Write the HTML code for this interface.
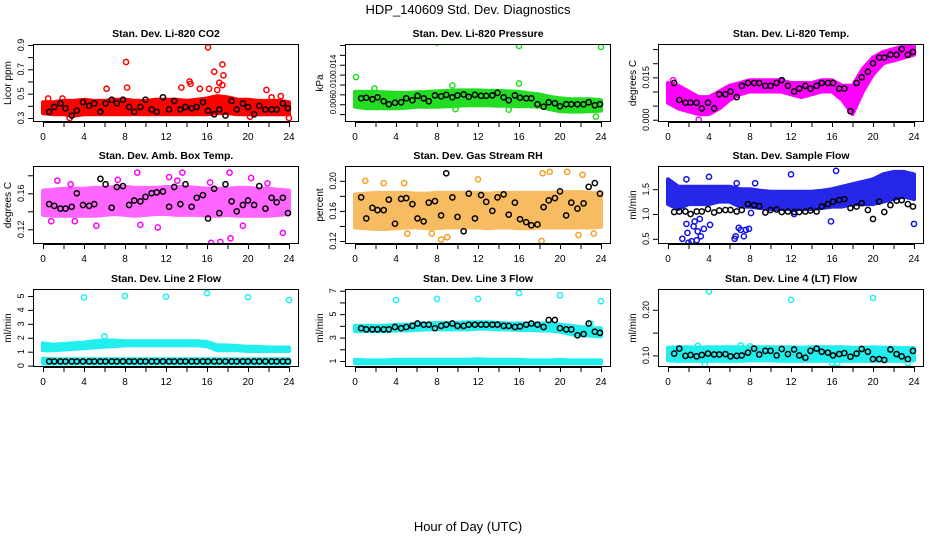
<!DOCTYPE html>
<html><head><meta charset="utf-8"><style>
html,body{margin:0;padding:0;background:#fff;}
svg text{font-family:"Liberation Sans",sans-serif;}
</style></head><body>
<svg id="chart" width="936" height="540" xmlns="http://www.w3.org/2000/svg">
<text x="468" y="14" font-size="13" text-anchor="middle">HDP_140609  Std. Dev. Diagnostics</text>
<text x="468" y="531" font-size="13" text-anchor="middle">Hour of Day (UTC)</text>
</svg>
<script>
// ---- shared data ----
const hourKnots=[0,1,2,3,4,5,6,7,8,9,10,11,12,13,14,15,16,17,18,19,20,21,22,23,24];
const blackHours=[0.6,1.1,1.7,2.2,2.8,3.3,3.9,4.5,5.0,5.6,6.1,6.7,7.2,7.8,8.4,8.9,9.5,10.0,10.6,11.1,11.7,12.3,12.8,13.4,13.9,14.5,15.0,15.6,16.1,16.7,17.2,17.8,18.4,18.9,19.5,20.0,20.6,21.1,21.7,22.3,22.8,23.4,23.9];
const xTicks=[0,2,4,6,8,10,12,14,16,18,20,22,24];
const xTickLabels=["0","","4","","8","","12","","16","","20","","24"];
const panelTitles=["Stan. Dev. Li-820 CO2","Stan. Dev. Li-820 Pressure","Stan. Dev. Li-820 Temp.","Stan. Dev. Amb. Box Temp.","Stan. Dev. Gas Stream RH","Stan. Dev. Sample Flow","Stan. Dev. Line 2 Flow","Stan. Dev. Line 3 Flow","Stan. Dev. Line 4 (LT) Flow"];
const yTitles=["Licor ppm","kPa","degrees C","degrees C","percent","ml/min","ml/min","ml/min","ml/min"];
const panelColors=["#ff0000","#22dd22","#ff00ff","#ff00ff","#f4a020","#1010e8","#22eeee","#22eeee","#22eeee"];
const yDomains=[[0.267,0.908],[0.0024,0.0182],[-0.0008,0.0268],[0.1037,0.1903],[0.116,0.2197],[0.395,1.968],[-0.1,5.5],[0.488,7.145],[0.0746,0.2456]];
const yTicks=[[0.3,0.4,0.5,0.6,0.7,0.8,0.9],[0.004,0.006,0.008,0.010,0.012,0.014,0.016,0.018],[0,0.005,0.010,0.015,0.020,0.025],[0.12,0.14,0.16,0.18],[0.12,0.14,0.16,0.18,0.20],[0.5,1.0,1.5],[0,1,2,3,4,5],[1,2,3,4,5,6,7],[0.10,0.15,0.20]];
const yTickLabels=[["0.3","","0.5","","0.7","","0.9"],["","0.006","","0.010","","0.014","",""],["0.000","","","0.015","",""],["0.12","","0.16",""],["0.12","","0.16","","0.20"],["0.5","1.0","1.5"],["0","1","2","3","4","5"],["1","","3","","5","","7"],["0.10","","0.20"]];
// band envelopes (hourly)
const bandLo=[
[0.34,0.33,0.33,0.32,0.33,0.33,0.33,0.33,0.33,0.33,0.33,0.33,0.33,0.33,0.33,0.33,0.33,0.34,0.34,0.33,0.33,0.33,0.33,0.33,0.33],
[0.0055,0.0052,0.0052,0.0052,0.0052,0.0053,0.0055,0.0055,0.0055,0.0056,0.0057,0.0058,0.0058,0.0058,0.0057,0.0057,0.0056,0.0056,0.0055,0.0050,0.0046,0.0045,0.0045,0.0046,0.0047],
[0.006,0.004,0.003,0.002,0.002,0.004,0.007,0.009,0.010,0.010,0.010,0.010,0.009,0.008,0.009,0.010,0.010,0.007,0.002,0.010,0.016,0.020,0.021,0.022,0.023],
[0.136,0.135,0.135,0.135,0.135,0.135,0.136,0.137,0.136,0.135,0.136,0.137,0.137,0.136,0.136,0.136,0.135,0.135,0.136,0.135,0.135,0.135,0.135,0.136,0.137],
[0.138,0.137,0.136,0.136,0.137,0.138,0.138,0.137,0.137,0.138,0.138,0.138,0.138,0.137,0.138,0.138,0.137,0.137,0.138,0.138,0.138,0.138,0.138,0.138,0.139],
[1.2,1.1,1.2,1.2,1.2,1.25,1.25,1.15,1.15,1.12,1.1,1.1,1.1,1.1,1.1,1.12,1.15,1.15,1.2,1.2,1.2,1.25,1.3,1.35,1.3],
[1.1,1.1,1.15,1.2,1.25,1.3,1.35,1.4,1.45,1.45,1.45,1.45,1.45,1.45,1.45,1.45,1.4,1.1,1.1,1.1,1.05,1.05,1.05,1.05,1.05],
[3.55,3.55,3.55,3.55,3.6,3.6,3.65,3.7,3.7,3.7,3.7,3.7,3.75,3.75,3.7,3.7,3.65,3.65,3.6,3.6,3.5,3.3,3.2,3.15,3.1],
[0.089,0.088,0.088,0.088,0.088,0.088,0.088,0.088,0.089,0.089,0.089,0.088,0.088,0.088,0.088,0.088,0.088,0.088,0.088,0.088,0.088,0.088,0.088,0.088,0.089]];
const bandHi=[
[0.43,0.43,0.44,0.44,0.45,0.44,0.44,0.45,0.45,0.44,0.44,0.45,0.45,0.45,0.44,0.45,0.46,0.48,0.47,0.45,0.45,0.44,0.44,0.44,0.43],
[0.0085,0.0085,0.0085,0.0084,0.0083,0.0083,0.0084,0.0085,0.0086,0.0087,0.0088,0.0088,0.0088,0.0087,0.0087,0.0086,0.0085,0.0082,0.0080,0.0075,0.0072,0.0070,0.0070,0.0070,0.0068],
[0.013,0.012,0.010,0.008,0.008,0.010,0.012,0.013,0.014,0.014,0.014,0.014,0.013,0.013,0.013,0.014,0.014,0.012,0.012,0.018,0.022,0.024,0.025,0.026,0.026],
[0.163,0.164,0.165,0.165,0.165,0.166,0.166,0.167,0.167,0.166,0.166,0.166,0.167,0.167,0.167,0.166,0.165,0.165,0.165,0.166,0.166,0.165,0.165,0.164,0.163],
[0.182,0.183,0.184,0.184,0.184,0.184,0.183,0.183,0.184,0.184,0.184,0.184,0.184,0.183,0.184,0.184,0.184,0.184,0.184,0.184,0.185,0.185,0.185,0.184,0.183],
[1.7,1.55,1.55,1.55,1.55,1.55,1.55,1.5,1.5,1.47,1.45,1.45,1.45,1.45,1.45,1.47,1.5,1.55,1.6,1.65,1.7,1.8,1.85,1.85,1.8],
[1.6,1.5,1.55,1.6,1.65,1.75,1.8,1.8,1.75,1.75,1.75,1.75,1.75,1.75,1.75,1.75,1.7,1.45,1.45,1.4,1.35,1.35,1.3,1.3,1.3],
[4.0,4.0,4.0,4.0,4.1,4.1,4.2,4.2,4.25,4.25,4.25,4.3,4.3,4.3,4.25,4.2,4.2,4.2,4.2,4.2,4.1,4.0,3.9,3.8,3.8],
[0.117,0.118,0.118,0.117,0.118,0.118,0.118,0.118,0.118,0.118,0.118,0.118,0.118,0.117,0.118,0.118,0.118,0.118,0.117,0.117,0.118,0.117,0.117,0.116,0.116]];
// secondary low bands (line 2 / line 3 flow)
const band2Lo=[null,null,null,null,null,null,
[0.15,0.15,0.15,0.15,0.15,0.15,0.15,0.15,0.15,0.15,0.15,0.15,0.15,0.15,0.15,0.15,0.15,0.15,0.15,0.15,0.15,0.15,0.15,0.15,0.15],
[0.8,0.8,0.8,0.8,0.8,0.8,0.8,0.8,0.8,0.8,0.8,0.8,0.8,0.8,0.8,0.8,0.8,0.8,0.8,0.8,0.8,0.8,0.8,0.8,0.8],null];
const band2Hi=[null,null,null,null,null,null,
[0.5,0.45,0.45,0.45,0.45,0.45,0.45,0.45,0.45,0.45,0.45,0.45,0.45,0.45,0.45,0.45,0.45,0.45,0.45,0.45,0.45,0.45,0.45,0.45,0.45],
[1.1,1.05,1.05,1.05,1.1,1.1,1.1,1.1,1.1,1.1,1.1,1.1,1.15,1.1,1.1,1.1,1.1,1.05,1.05,1.05,1.1,1.05,1.05,1.05,1.05],null];
const outlierHours=[
[8.1,8.2,6.2,13.5,14.3,14.4,15.3,16.1,16.2,16.7,17.0,17.2,17.5,17.6,17.5,21.8,2.6,24,20.2,0.5,1.9,22.3,23.2],
[0.1,8,16,24,16,9.5,1.9,23.5,9.8,15],
[3,0.5],
[9.2,13.6,18.2,16.4,17.3,18.3,23.4,11.2,5.2,19.5,0.8,3.1,9.5,1.4,7.3,12.3,13.1,20.3,21.9,2.7,16.3],
[1,2.8,4.8,12,18.3,19,20.7,22.2,5.1,7.5,8.4,9,18.2,21.8,23.3],
[1.4,1.8,1.9,2.0,2.3,2.5,2.6,2.8,2.9,3.1,3.2,3.5,4.1,6.5,6.6,6.9,7.1,7.4,7.6,7.9,1.8,4,6.7,8.5,12,16.4,15.9,24,12.3,8.1],
[4,8,12,16,20,24,6],
[4,8,12,16,20,24,23],
[4,12,20,3.6,16,16.5,23.4,2.9,7.1,8]];
const outlierValues=[
[0.76,0.55,0.54,0.55,0.60,0.58,0.54,0.88,0.54,0.68,0.53,0.59,0.74,0.65,0.57,0.53,0.30,0.30,0.31,0.46,0.46,0.47,0.48],
[0.0115,0.0185,0.0178,0.0176,0.0102,0.0098,0.0092,0.0035,0.0050,0.0049],
[0.000,0.014],
[0.183,0.183,0.183,0.105,0.106,0.110,0.116,0.122,0.124,0.124,0.129,0.129,0.125,0.174,0.175,0.178,0.174,0.177,0.171,0.170,0.172],
[0.200,0.197,0.197,0.202,0.210,0.212,0.212,0.208,0.130,0.130,0.122,0.125,0.120,0.128,0.130],
[0.5,0.8,0.62,0.42,0.45,0.75,0.85,0.47,0.65,0.9,0.55,0.7,0.78,0.5,0.55,0.72,0.68,0.55,0.68,0.7,1.7,1.75,1.62,1.62,1.8,1.87,0.85,0.8,1.0,1.02],
[4.9,5.0,4.95,5.2,4.92,4.7,2.1],
[6.2,6.3,6.3,6.8,6.6,6.1,4.2],
[0.24,0.222,0.226,0.08,0.083,0.083,0.083,0.121,0.122,0.12]];
const blackValues=[
[0.35,0.39,0.42,0.38,0.32,0.36,0.43,0.40,0.42,0.35,0.42,0.45,0.42,0.45,0.39,0.35,0.39,0.45,0.37,0.35,0.47,0.37,0.44,0.37,0.39,0.38,0.39,0.43,0.36,0.33,0.37,0.32,0.44,0.37,0.42,0.39,0.33,0.40,0.37,0.37,0.37,0.42,0.38],
[0.0072,0.0073,0.0070,0.0074,0.0066,0.0060,0.0063,0.0064,0.0072,0.0068,0.0077,0.0072,0.0066,0.0078,0.0076,0.0079,0.0074,0.0078,0.0080,0.0075,0.0079,0.0077,0.0077,0.0078,0.0083,0.0074,0.0068,0.0078,0.0073,0.0072,0.0072,0.0060,0.0055,0.0064,0.0062,0.0056,0.0060,0.0060,0.0060,0.0060,0.0064,0.0058,0.0060],
[0.013,0.007,0.006,0.006,0.006,0.004,0.006,0.004,0.009,0.009,0.010,0.008,0.012,0.013,0.013,0.013,0.012,0.012,0.013,0.014,0.012,0.010,0.011,0.012,0.011,0.012,0.013,0.013,0.013,0.011,0.011,0.003,0.013,0.015,0.017,0.020,0.022,0.022,0.023,0.023,0.025,0.023,0.024],
[0.148,0.146,0.143,0.143,0.145,0.160,0.147,0.146,0.148,0.176,0.170,0.144,0.167,0.168,0.147,0.152,0.151,0.156,0.160,0.161,0.162,0.145,0.167,0.148,0.170,0.145,0.155,0.158,0.132,0.165,0.138,0.170,0.151,0.140,0.147,0.152,0.147,0.168,0.143,0.155,0.150,0.155,0.138],
[0.178,0.150,0.164,0.161,0.161,0.175,0.143,0.176,0.177,0.169,0.150,0.146,0.171,0.173,0.154,0.210,0.178,0.152,0.133,0.183,0.150,0.181,0.172,0.160,0.178,0.182,0.155,0.171,0.149,0.145,0.141,0.142,0.165,0.174,0.177,0.186,0.154,0.171,0.163,0.170,0.192,0.197,0.183],
[1.04,1.05,1.05,1.0,1.05,1.05,1.1,1.03,1.07,1.08,1.08,1.05,1.08,1.2,1.18,1.16,1.03,1.08,1.09,1.04,1.05,1.04,1.04,1.05,1.07,1.05,1.15,1.2,1.25,1.28,1.3,1.12,1.15,1.22,1.08,0.9,1.25,1.04,1.18,1.27,1.28,1.2,1.15],
[0.3,0.3,0.3,0.3,0.3,0.3,0.3,0.3,0.3,0.3,0.3,0.3,0.3,0.3,0.3,0.3,0.3,0.3,0.3,0.3,0.3,0.3,0.3,0.3,0.3,0.3,0.3,0.3,0.3,0.3,0.3,0.3,0.3,0.3,0.3,0.3,0.3,0.3,0.3,0.3,0.3,0.3,0.3],
[3.8,3.7,3.7,3.7,3.7,3.7,3.9,3.8,3.9,4.0,4.2,4.1,4.1,3.8,4.0,4.1,4.2,4.0,4.0,4.1,4.1,4.1,4.1,4.1,4.1,4.0,4.0,3.9,3.95,4.1,4.2,4.1,3.9,4.5,4.5,3.8,3.7,3.7,3.2,3.3,4.2,3.5,3.4],
[0.104,0.115,0.099,0.101,0.098,0.101,0.104,0.102,0.102,0.103,0.098,0.099,0.100,0.106,0.115,0.102,0.110,0.110,0.100,0.114,0.103,0.113,0.100,0.095,0.110,0.115,0.108,0.106,0.100,0.103,0.105,0.097,0.104,0.114,0.108,0.092,0.092,0.090,0.113,0.103,0.098,0.092,0.110]];

const NS="http://www.w3.org/2000/svg";
const svg=document.getElementById('chart');
const colX0=[43,355,668], rowTop=[44,166,289], rowH=78, hourPx=246/24;
const bandOpacity=[1,1,1,0.6,0.7,0.9,1,1,1];
function mk(tag,attrs,parent){const e=document.createElementNS(NS,tag);for(const k in attrs)e.setAttribute(k,attrs[k]);(parent||svg).appendChild(e);return e;}

for(let p=0;p<9;p++){
  const c=p%3,r=Math.floor(p/3);
  const x0=colX0[c], top=rowTop[r], bot=top+rowH, left=x0-10, right=x0+256;
  const dom=yDomains[p];
  const xs=h=>x0+h*hourPx;
  const ys=v=>bot-(v-dom[0])/(dom[1]-dom[0])*rowH;
  const g=mk('g',{});
  
  
  const t=mk('text',{x:(left+right)/2,y:top-7,'font-size':10.5,'font-weight':'bold','text-anchor':'middle'},g);
  t.textContent=panelTitles[p];
  
  
  const cp=mk('clipPath',{id:'cp'+p},g);
  mk('rect',{x:left+1,y:top+1,width:right-left-2,height:rowH-2},cp);
  const dg=mk('g',{'clip-path':'url(#cp'+p+')'},g);
  const col=panelColors[p];
  const drawBand=(lo,hi,name)=>{
    let d='';
    hourKnots.forEach((h,i)=>{d+=(i?'L':'M')+xs(h).toFixed(1)+','+ys(hi[i]).toFixed(1);});
    for(let i=hourKnots.length-1;i>=0;i--)d+='L'+xs(hourKnots[i]).toFixed(1)+','+ys(lo[i]).toFixed(1);
    const b=mk('path',{d:d+'Z',fill:col,stroke:col,'stroke-width':4,'stroke-linejoin':'round',opacity:bandOpacity[p]},dg);
    
    
  };
  drawBand(bandLo[p],bandHi[p],'data-band');
  if(band2Lo[p])drawBand(band2Lo[p],band2Hi[p],'data-band-low');
  outlierHours[p].forEach((h,i)=>{
    const o=mk('circle',{cx:xs(h),cy:ys(outlierValues[p][i]),r:2.6,fill:'none',stroke:col,'stroke-width':1.5},dg);
    
    
  });
  blackHours.forEach((h,i)=>{
    if(blackValues[p][i]===undefined)return;
    const o=mk('circle',{cx:xs(h),cy:ys(blackValues[p][i]),r:2.6,fill:'none',stroke:'#000','stroke-width':1.5},dg);
    
    
  });
  const box=mk('rect',{x:left+0.5,y:top+0.5,width:right-left-1,height:rowH-1,fill:'none',stroke:'#000','stroke-width':1},g);
  
  
  // x axis
  mk('line',{x1:xs(0),x2:xs(24),y1:bot+0.5,y2:bot+0.5,stroke:'#000'},g);
  xTicks.forEach((h,i)=>{
    mk('line',{x1:xs(h)+0.5,x2:xs(h)+0.5,y1:bot,y2:bot+5,stroke:'#000'},g);
    if(xTickLabels[i]){const l=mk('text',{x:xs(h),y:bot+18,'font-size':10,'text-anchor':'middle'},g);l.textContent=xTickLabels[i];
      
      }
  });
  // y axis
  const yt=yTicks[p];
  mk('line',{x1:left+0.5,x2:left+0.5,y1:ys(yt[0]),y2:ys(yt[yt.length-1]),stroke:'#000'},g);
  yt.forEach((v,i)=>{
    const y=ys(v);
    mk('line',{x1:left-5,x2:left,y1:y+0.5,y2:y+0.5,stroke:'#000'},g);
    if(yTickLabels[p][i]){const l=mk('text',{x:0,y:0,'font-size':p===1?8:9,'text-anchor':'middle',transform:'translate('+(left-9)+','+y+') rotate(-90)'},g);l.textContent=yTickLabels[p][i];
      
      }
  });
  const yl=mk('text',{x:0,y:0,'font-size':10,'text-anchor':'middle',transform:'translate('+(left-22)+','+(top+rowH/2)+') rotate(-90)'},g);
  yl.textContent=yTitles[p];
  
  
}
</script>
</body></html>
